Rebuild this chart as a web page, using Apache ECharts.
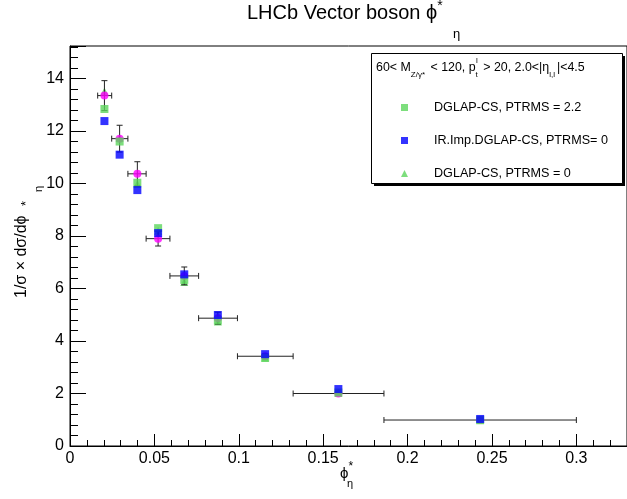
<!DOCTYPE html>
<html>
<head>
<meta charset="utf-8">
<script src="https://cdn.jsdelivr.net/npm/echarts@6/dist/echarts.min.js"></script>
<style>
  html, body { margin: 0; padding: 0; background: #fff; }
  #main { width: 627px; height: 499px; }
</style>
</head>
<body>
<div id="main"></div>
<script>
// phi*_eta bins
var binCenter = [0.0204, 0.0294, 0.0399, 0.0522, 0.0677, 0.0876, 0.1156, 0.159, 0.243];
var binLow = [0.0164, 0.0247, 0.0343, 0.0451, 0.0592, 0.0762, 0.0992, 0.1322, 0.186];
var binHigh = [0.0247, 0.0343, 0.0451, 0.0592, 0.0762, 0.0992, 0.1322, 0.186, 0.300];
// LHCb data + stat error
var dataY = [13.35, 11.71, 10.37, 7.90, 6.48, 4.87, 3.42, 2.00, 0.99];
var dataErr = [0.57, 0.51, 0.46, 0.28, 0.34, 0.23, 0.10, 0.05, 0.03];
// predictions
var dglapPt22 = [12.84, 11.60, 10.03, 8.30, 6.33, 4.78, 3.37, 2.04, 0.99];
var irImpPt0 = [12.38, 11.10, 9.75, 8.11, 6.54, 4.99, 3.50, 2.17, 1.03];
var dglapPt0 = [13.51, 11.74, 9.98, 8.20, 6.25, 4.74, 3.35, 2.02, 0.98];

var legendNames = ['DGLAP-CS, PTRMS = 2.2', 'IR.Imp.DGLAP-CS, PTRMS= 0', 'DGLAP-CS, PTRMS = 0'];
var FONT = 'Liberation Sans, Arial, Helvetica, sans-serif';

function pairs(ys) {
    return ys.map(function (y, i) { return [binCenter[i], y]; });
}

var errData = binCenter.map(function (x, i) {
    return [x, dataY[i], binLow[i], binHigh[i], dataY[i] - dataErr[i], dataY[i] + dataErr[i]];
});

var chart = echarts.init(document.getElementById('main'));

var option = {
    animation: false,
    backgroundColor: '#fff',
    textStyle: { fontFamily: FONT },
    grid: {
        left: 70, top: 46, bottom: 53, right: -13,
        show: true, borderColor: '#000', borderWidth: 1, backgroundColor: 'transparent'
    },
    xAxis: {
        type: 'value', min: 0, max: 0.33, interval: 0.05,
        axisLine: { onZero: false, lineStyle: { color: '#000', width: 1 } },
        axisTick: { inside: true, length: 12, lineStyle: { color: '#000' } },
        minorTick: { show: true, splitNumber: 5, length: 6, lineStyle: { color: '#000' } },
        splitLine: { show: false },
        axisLabel: {
            color: '#000', fontSize: 16, margin: 5, fontFamily: FONT,
            showMaxLabel: false,
            formatter: function (v) { return String(Math.round(v * 100) / 100); }
        }
    },
    yAxis: {
        type: 'value', min: 0, max: 15.24, interval: 2,
        axisLine: { onZero: false, lineStyle: { color: '#000', width: 1 } },
        axisTick: { inside: true, length: 16, lineStyle: { color: '#000' } },
        minorTick: { show: true, splitNumber: 5, length: 8, lineStyle: { color: '#000' } },
        splitLine: { show: false },
        axisLabel: {
            color: '#000', fontSize: 16, margin: 6, fontFamily: FONT,
            showMaxLabel: false
        }
    },
    legend: {
        data: legendNames,
        orient: 'vertical',
        left: 396, top: 95,
        itemWidth: 7, itemHeight: 7, itemGap: 18,
        textStyle: { color: '#000', fontSize: 12.6, fontFamily: FONT, lineHeight: 15, padding: [0, 0, 0, 21] }
    },
    graphic: [
        // legend frame + shadow
        { type: 'rect', shape: { x: 374, y: 56, width: 251, height: 130 }, style: { fill: '#000' }, z: 1 },
        { type: 'rect', shape: { x: 371.5, y: 53.5, width: 251, height: 130 },
          style: { fill: '#fff', stroke: '#000', lineWidth: 1 }, z: 2 },
        { type: 'text', x: 376, y: 68, z: 10,
          style: {
              text: '{n|60< M}{s|Z/γ*}{n| < 120, p}{s|t}{n| > 20, 2.0<|η}{s|l,l}{n||<4.5}',
              verticalAlign: 'middle', fill: '#000',
              rich: {
                  n: { fontSize: 12.4, fontFamily: FONT, lineHeight: 22, verticalAlign: 'middle' },
                  s: { fontSize: 8, fontFamily: FONT, lineHeight: 22, verticalAlign: 'bottom', padding: [0, 2, 0, 0] }
              }
          } },
        { type: 'text', x: 476, y: 61, z: 10,
          style: { text: 'l', fontSize: 8, fontFamily: FONT, fill: '#000', verticalAlign: 'middle' } },
        // title
        { type: 'text', x: 247, y: 11, z: 10,
          style: {
              text: '{m|LHCb Vector boson ϕ}{s|*}',
              verticalAlign: 'middle', fill: '#000',
              rich: {
                  m: { fontSize: 20, fontFamily: FONT, lineHeight: 24, verticalAlign: 'bottom' },
                  s: { fontSize: 14, fontFamily: FONT, lineHeight: 24, verticalAlign: 'top' }
              }
          } },
        { type: 'text', x: 453, y: 34, z: 10,
          style: { text: 'η', fontSize: 13, fontFamily: FONT, fill: '#000', verticalAlign: 'middle' } },
        // x axis title
        { type: 'text', x: 340, y: 471, z: 10,
          style: {
              text: '{m|ϕ}{s|*}', verticalAlign: 'middle', fill: '#000',
              rich: {
                  m: { fontSize: 15, fontFamily: FONT, lineHeight: 20, verticalAlign: 'bottom' },
                  s: { fontSize: 12, fontFamily: FONT, lineHeight: 20, verticalAlign: 'top' }
              }
          } },
        { type: 'text', x: 347, y: 484, z: 10,
          style: { text: 'η', fontSize: 11, fontFamily: FONT, fill: '#000', verticalAlign: 'middle' } },
        // y axis title
        { type: 'text', x: 22, y: 298, rotation: Math.PI / 2, z: 10,
          style: { text: '1/σ × dσ/dϕ', fontSize: 16, fontFamily: FONT, fill: '#000', verticalAlign: 'middle' } },
        { type: 'text', x: 20, y: 206, rotation: Math.PI / 2, z: 10,
          style: { text: '*', fontSize: 13, fontFamily: FONT, fill: '#000', verticalAlign: 'top' } },
        { type: 'text', x: 39, y: 192, rotation: Math.PI / 2, z: 10,
          style: { text: 'η', fontSize: 11, fontFamily: FONT, fill: '#000', verticalAlign: 'middle' } }
    ],
    series: [
        {
            name: 'DGLAP-CS, PTRMS = 0',
            type: 'scatter', symbol: 'triangle', symbolSize: 8, z: 2,
            itemStyle: { color: '#5cd65c' },
            data: pairs(dglapPt0)
        },
        {
            name: 'errors',
            type: 'custom', z: 3,
            renderItem: function (params, api) {
                var c = api.coord([api.value(0), api.value(1)]);
                var l = api.coord([api.value(2), api.value(1)]);
                var r = api.coord([api.value(3), api.value(1)]);
                var lo = api.coord([api.value(0), api.value(4)]);
                var hi = api.coord([api.value(0), api.value(5)]);
                var st = { stroke: '#222', lineWidth: 1 };
                var cap = 3;
                return {
                    type: 'group',
                    children: [
                        { type: 'line', shape: { x1: l[0], y1: c[1], x2: r[0], y2: c[1] }, style: st },
                        { type: 'line', shape: { x1: l[0], y1: c[1] - cap, x2: l[0], y2: c[1] + cap }, style: st },
                        { type: 'line', shape: { x1: r[0], y1: c[1] - cap, x2: r[0], y2: c[1] + cap }, style: st },
                        { type: 'line', shape: { x1: c[0], y1: lo[1], x2: c[0], y2: hi[1] }, style: st },
                        { type: 'line', shape: { x1: c[0] - cap, y1: lo[1], x2: c[0] + cap, y2: lo[1] }, style: st },
                        { type: 'line', shape: { x1: c[0] - cap, y1: hi[1], x2: c[0] + cap, y2: hi[1] }, style: st }
                    ]
                };
            },
            data: errData
        },
        {
            name: 'LHCb data',
            type: 'scatter', symbol: 'circle', symbolSize: 8, z: 4,
            itemStyle: { color: '#ff00ff' },
            data: pairs(dataY)
        },
        {
            name: 'DGLAP-CS, PTRMS = 2.2',
            type: 'scatter', symbol: 'rect', symbolSize: 8, z: 5,
            itemStyle: { color: '#5cd65c' },
            data: pairs(dglapPt22)
        },
        {
            name: 'IR.Imp.DGLAP-CS, PTRMS= 0',
            type: 'scatter', symbol: 'rect', symbolSize: 8, z: 6,
            itemStyle: { color: '#0000ff' },
            data: pairs(irImpPt0)
        }
    ]
};

chart.setOption(option);
</script>
</body>
</html>
